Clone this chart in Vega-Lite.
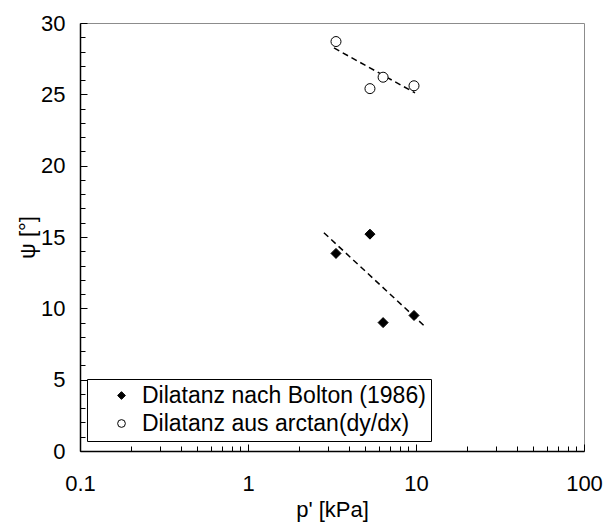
{
  "$schema": "https://vega.github.io/schema/vega-lite/v6.json",
  "width": 504,
  "height": 428,
  "autosize": {"type": "none"},
  "padding": {"left": 80, "top": 23, "right": 19, "bottom": 76},
  "background": "white",
  "config": {
    "font": "Liberation Sans",
    "view": {"stroke": "#8c8c8c", "strokeWidth": 1},
    "axis": {"grid": false, "domainColor": "black", "tickColor": "black", "labelColor": "black", "titleColor": "black", "labelFont": "Liberation Sans", "titleFont": "Liberation Sans", "titleFontWeight": "normal"}
  },
  "datasets": {
    "pts": [
      {"series": "Dilatanz nach Bolton (1986)", "p": 3.34, "psi": 13.85},
      {"series": "Dilatanz nach Bolton (1986)", "p": 5.32, "psi": 15.2},
      {"series": "Dilatanz nach Bolton (1986)", "p": 6.37, "psi": 9.0},
      {"series": "Dilatanz nach Bolton (1986)", "p": 9.73, "psi": 9.5},
      {"series": "Dilatanz aus arctan(dy/dx)", "p": 3.34, "psi": 28.7},
      {"series": "Dilatanz aus arctan(dy/dx)", "p": 5.32, "psi": 25.4},
      {"series": "Dilatanz aus arctan(dy/dx)", "p": 6.37, "psi": 26.2},
      {"series": "Dilatanz aus arctan(dy/dx)", "p": 9.73, "psi": 25.6}
    ],
    "fit": [
      {"g": "Bolton", "p": 2.83, "psi": 15.3},
      {"g": "Bolton", "p": 11.2, "psi": 8.77},
      {"g": "arctan", "p": 3.25, "psi": 28.25},
      {"g": "arctan", "p": 9.87, "psi": 25.1}
    ]
  },
  "layer": [
    {
      "data": {"name": "fit"},
      "mark": {"type": "line", "color": "black", "strokeWidth": 1.5, "strokeDash": [6, 4]},
      "encoding": {
        "x": {"field": "p", "type": "quantitative", "scale": {"type": "log", "domain": [0.1, 100], "nice": false},
          "axis": {"orient": "bottom", "values": [0.2,0.3,0.4,0.5,0.6,0.7,0.8,0.9,2,3,4,5,6,7,8,9,20,30,40,50,60,70,80,90], "labels": false, "title": null, "domain": false, "tickSize": -5, "tickWidth": 1}},
        "y": {"field": "psi", "type": "quantitative", "scale": {"domain": [0, 30], "nice": false},
          "axis": {"orient": "left", "values": [1,2,3,4,6,7,8,9,11,12,13,14,16,17,18,19,21,22,23,24,26,27,28,29], "labels": false, "title": null, "domain": false, "tickSize": -5, "tickWidth": 1}},
        "detail": {"field": "g"}
      }
    },
    {
      "data": {"name": "pts"},
      "mark": {"type": "point", "filled": false, "stroke": "black", "strokeWidth": 1, "opacity": 1, "size": 100},
      "encoding": {
        "x": {"field": "p", "type": "quantitative", "scale": {"type": "log", "domain": [0.1, 100], "nice": false},
          "axis": {"orient": "bottom", "values": [0.1, 1, 10, 100], "format": "~g", "title": "p' [kPa]", "labelFontSize": 22, "titleFontSize": 22, "tickSize": -7, "tickWidth": 1, "domainWidth": 1.5, "labelPadding": 29, "titlePadding": 5, "labelFlush": false}},
        "y": {"field": "psi", "type": "quantitative", "scale": {"domain": [0, 30], "nice": false},
          "axis": {"orient": "left", "values": [0, 5, 10, 15, 20, 25, 30], "title": "ψ [°]", "labelFontSize": 22, "titleFontSize": 22, "tickSize": -7, "tickWidth": 1, "domainWidth": 1.5, "labelPadding": 22, "titlePadding": 1}},
        "shape": {"field": "series", "type": "nominal", "scale": {"domain": ["Dilatanz nach Bolton (1986)", "Dilatanz aus arctan(dy/dx)"], "range": ["diamond", "circle"]}, "legend": {"title": null}},
        "fill": {"field": "series", "type": "nominal", "scale": {"domain": ["Dilatanz nach Bolton (1986)", "Dilatanz aus arctan(dy/dx)"], "range": ["black", "white"]},
          "legend": {"title": null, "orient": "none", "legendX": 7, "legendY": 356, "strokeColor": "black", "fillColor": "white", "padding": 5, "symbolSize": 60, "symbolStrokeColor": "black", "symbolStrokeWidth": 1, "symbolOffset": 18, "labelOffset": 9, "labelFontSize": 23, "labelFont": "Liberation Sans", "labelColor": "black", "rowPadding": 4, "labelLimit": 400}}
      }
    }
  ],
  "resolve": {"axis": {"x": "independent", "y": "independent"}}
}
